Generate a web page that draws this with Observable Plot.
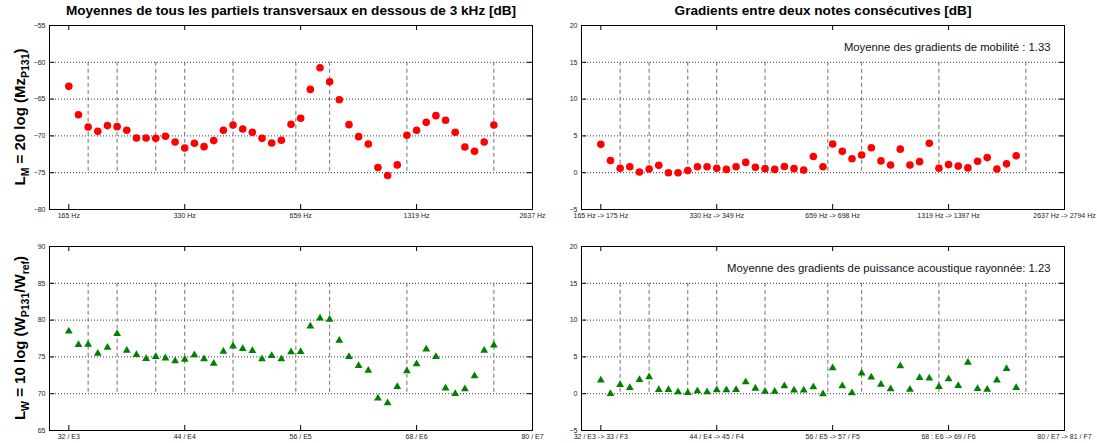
<!DOCTYPE html>
<html><head><meta charset="utf-8">
<script src="https://cdn.jsdelivr.net/npm/d3@7"></script>
<script src="https://cdn.jsdelivr.net/npm/@observablehq/plot@0.6"></script>
<style>
body{margin:0;background:#fff;width:1097px;height:443px;position:relative;overflow:hidden;font-family:"Liberation Sans",Arial,Helvetica,sans-serif;}
.panel{position:absolute;}
.panel svg{overflow:visible;}
.ylab{position:absolute;transform:translate(-50%,-50%) rotate(-90deg);white-space:nowrap;font-weight:bold;font-size:15px;color:#000;}
.ylab sub{font-size:10.5px;}
</style></head><body>
<div id="tl" class="panel" style="left:0;top:0"></div>
<div id="tr" class="panel" style="left:548px;top:0"></div>
<div id="bl" class="panel" style="left:0;top:221px"></div>
<div id="br" class="panel" style="left:548px;top:221px"></div>
<div class="ylab" style="left:21px;top:117px">L<sub>M</sub> = 20 log (Mz<sub>P131</sub>)</div>
<div class="ylab" style="left:21px;top:338px">L<sub>W</sub> = 10 log (W<sub>P131</sub>/W<sub>ref</sub>)</div>
<script>
// note numbers (E3 = 32 ... )
const notes = [32,33,34,35,36,37,38,39,40,41,42,43,44,45,46,47,48,49,50,51,52,53,54,55,56,57,58,59,60,61,62,63,64,65,66,67,68,69,70,71,72,73,74,75,76];
const gradNotes = [32,33,34,35,36,37,38,39,40,41,42,43,44,45,46,47,48,49,50,51,52,53,54,55,56,57,58,59,60,61,62,63,64,65,66,67,68,69,70,71,72,73,74,75];

const mobility = [-63.27,-67.12,-68.79,-69.38,-68.6,-68.74,-69.24,-70.28,-70.28,-70.33,-70.05,-70.82,-71.64,-71.0,-71.46,-70.64,-69.24,-68.52,-69.06,-69.51,-70.33,-70.96,-70.6,-68.43,-67.61,-63.68,-60.74,-62.64,-65.08,-68.47,-70.1,-71.1,-74.3,-75.39,-73.94,-69.92,-69.24,-68.16,-67.25,-67.88,-69.51,-71.5,-72.09,-70.82,-68.52];
const mobilityGrad = [3.85,1.65,0.6,0.8,0.1,0.5,1.0,0.0,0.0,0.3,0.8,0.8,0.6,0.45,0.8,1.4,0.75,0.55,0.45,0.85,0.55,0.35,2.2,0.8,3.9,2.9,1.9,2.4,3.4,1.6,1.05,3.2,1.05,1.5,4.0,0.6,1.1,0.9,0.65,1.55,2.05,0.5,1.2,2.3];
const power = [78.63,76.78,76.82,75.6,76.42,78.27,76.01,75.42,74.88,75.15,74.97,74.57,74.79,75.38,74.84,74.25,75.88,76.6,76.24,75.97,74.84,75.29,74.84,75.79,75.83,79.3,80.39,80.21,77.36,75.15,73.94,73.3,69.51,68.88,71.09,73.21,74.16,76.19,75.15,70.87,70.14,70.78,72.54,76.01,76.73];
const powerGrad = [1.95,0.14,1.36,0.95,2.04,2.4,0.68,0.68,0.36,0.27,0.5,0.36,0.63,0.63,0.68,1.72,0.86,0.45,0.45,1.18,0.59,0.59,1.04,0.09,3.62,1.18,0.23,2.9,2.36,1.4,0.77,3.9,0.72,2.31,2.22,1.09,2.13,1.22,4.39,0.82,0.72,1.95,3.53,0.95];

// register breaks (dashed lines)
const breaks = [34,37,41,44,49,55.5,59,67,76];

const xTicks = [32,44,56,68,80];
const labelsHz = ["165 Hz","330 Hz","659 Hz","1319 Hz","2637 Hz"];
const labelsHzGrad = ["165 Hz -> 175 Hz","330 Hz -> 349 Hz","659 Hz -> 698 Hz","1319 Hz -> 1397 Hz","2637 Hz -> 2794 Hz"];
const labelsNote = ["32 / E3","44 / E4","56 / E5","68 / E6","80 / E7"];
const labelsNoteGrad = ["32 / E3 -> 33 / F3","44 / E4 -> 45 / F4","56 / E5 -> 57 / F5","68 : E6 -> 69 / F6","80 / E7 -> 81 / F7"];

const yTicksMob = [-80,-75,-70,-65,-60,-55];
const yTicksPow = [65,70,75,80,85,90];
const yTicksGrad = [-5,0,5,10,15,20];

const titleMob = "Moyennes de tous les partiels transversaux en dessous de 3 kHz [dB]";
const titleGrad = "Gradients entre deux notes consécutives [dB]";
const noteMob = "Moyenne des gradients de mobilité : 1.33";
const notePow = "Moyenne des gradients de puissance acoustique rayonnée: 1.23";

function panel(o) {
  const W = o.width, H = o.height;
  const fw = W - o.ml - o.mr, fh = H - o.mt - o.mb;
  const lab = new Map(xTicks.map((t, i) => [t, o.xLabels[i]]));
  const data = o.x.map((x, i) => ({x, y: o.y[i]}));
  const yt = o.yTicks;
  const xt = xTicks.slice(0, -1);
  const marks = [
    Plot.ruleY(yt.slice(1, -1), {stroke: "#000", strokeOpacity: 0.8, strokeDasharray: "1,2"}),
    Plot.ruleX(breaks, {y1: o.breakY[0], y2: o.breakY[1], stroke: "#707070", strokeDasharray: "4,3"}),
    Plot.tickX(xt, {x: d => d, insetTop: fh - 5, stroke: "#000"}),
    Plot.tickX(xt, {x: d => d, insetBottom: fh - 5, stroke: "#000"}),
    Plot.tickY(yt.slice(1, -1), {y: d => d, insetRight: fw - 5, stroke: "#000"}),
    Plot.tickY(yt.slice(1, -1), {y: d => d, insetLeft: fw - 5, stroke: "#000"}),
    Plot.frame({stroke: "#000"}),
    Plot.axisX({ticks: xTicks, tickSize: 0, tickPadding: 4, tickFormat: d => lab.get(d), fill: "#222", label: null}),
    Plot.axisY({ticks: yt, tickSize: 0, tickPadding: 4, fill: "#222", label: null}),
    o.marker === "circle"
      ? Plot.dot(data, {x: "x", y: "y", r: 3.8, fill: "#ff0000", stroke: null})
      : Plot.dot(data, {x: "x", y: "y", r: 2.9, symbol: "triangle", fill: "#008000", stroke: null, dy: 1})
  ];
  if (o.title) marks.push(Plot.text([o.title], {frameAnchor: "top", lineAnchor: "middle", dy: -15, fontSize: 13.6, fontWeight: "bold", fill: "#000"}));
  if (o.note) marks.push(Plot.text([o.note], {frameAnchor: "top-right", textAnchor: "end", lineAnchor: "middle", dx: -14, dy: 22, fontSize: 11.3, fill: "#111"}));
  return Plot.plot({
    width: W, height: H,
    marginLeft: o.ml, marginRight: o.mr, marginTop: o.mt, marginBottom: o.mb,
    style: {fontFamily: '"Liberation Sans", Arial, Helvetica, sans-serif', fontSize: "7px", background: "white", overflow: "visible", color: "#000"},
    x: {domain: [30, 80], axis: null},
    y: {domain: o.yDomain, axis: null},
    marks
  });
}

document.getElementById("tl").append(panel({
  width: 548, height: 222, ml: 49, mr: 16, mt: 25, mb: 13,
  x: notes, y: mobility, yDomain: [-80, -55], yTicks: yTicksMob, breakY: [-60, -75],
  xLabels: labelsHz, marker: "circle", title: titleMob
}));
document.getElementById("tr").append(panel({
  width: 549, height: 222, ml: 33, mr: 33, mt: 25, mb: 13,
  x: gradNotes, y: mobilityGrad, yDomain: [-5, 20], yTicks: yTicksGrad, breakY: [15, 0],
  xLabels: labelsHzGrad, marker: "circle", title: titleGrad, note: noteMob
}));
document.getElementById("bl").append(panel({
  width: 548, height: 222, ml: 49, mr: 16, mt: 25, mb: 13,
  x: notes, y: power, yDomain: [65, 90], yTicks: yTicksPow, breakY: [85, 70],
  xLabels: labelsNote, marker: "triangle"
}));
document.getElementById("br").append(panel({
  width: 549, height: 222, ml: 33, mr: 33, mt: 25, mb: 13,
  x: gradNotes, y: powerGrad, yDomain: [-5, 20], yTicks: yTicksGrad, breakY: [15, 0],
  xLabels: labelsNoteGrad, marker: "triangle", note: notePow
}));
</script>
</body></html>
